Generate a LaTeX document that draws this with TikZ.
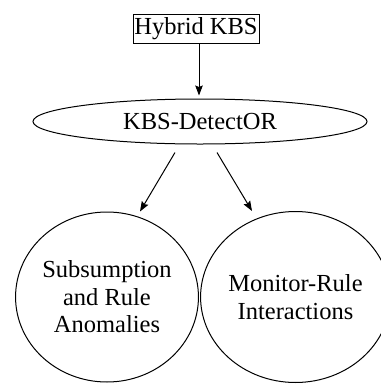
\documentclass[tikz,border=0pt]{standalone}
\usepackage{fontspec}
\setmainfont{Liberation Serif}
\usetikzlibrary{shapes.geometric,arrows.meta}
\begin{document}
\begin{tikzpicture}[x=1pt,y=-1pt,
  every node/.style={font=\fontsize{24.5}{27.5}\selectfont, align=center, inner sep=0pt},
  boxnode/.style={draw, line width=1pt, minimum width=126pt, minimum height=29pt},
  ovalnode/.style={draw, ellipse, line width=1pt},
  arr/.style={line width=1pt, -{Stealth[length=10pt,width=7.5pt,inset=1.5pt]}}
]
\useasboundingbox (0,0) rectangle (381,384);
\node[boxnode] (kbs) at (196,28.5) {Hybrid KBS};
\node[ovalnode, minimum width=334pt, minimum height=45pt] (det) at (200,121.5) {KBS-DetectOR};
\node[ovalnode, minimum width=179pt, minimum height=170pt] (sub) at (107,297) {Subsumption\\and Rule\\Anomalies};
\node[ovalnode, minimum width=171pt, minimum height=171pt] (mon) at (295.5,297) {Monitor-Rule\\Interactions};
\draw[arr] ([xshift=3pt]kbs.south) -- ([xshift=-1pt,yshift=3pt]det.north);
\draw[arr] ([xshift=-25pt,yshift=-8pt]det.south) -- ([xshift=33pt,yshift=0pt]sub.north);
\draw[arr] ([xshift=17pt,yshift=-8pt]det.south) -- ([xshift=-43.5pt,yshift=0pt]mon.north);
\end{tikzpicture}
\end{document}
